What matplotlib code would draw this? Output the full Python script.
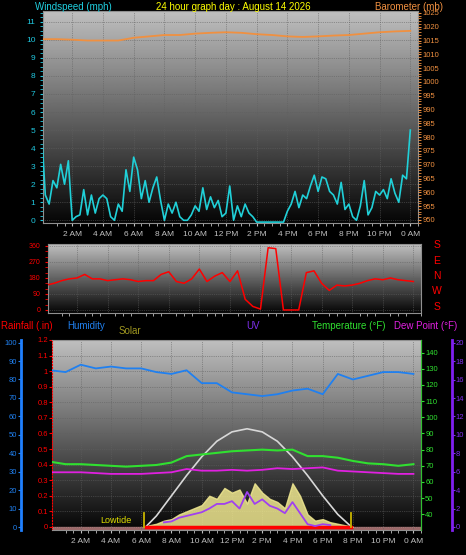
import numpy as np
import matplotlib
matplotlib.use("Agg")
import matplotlib.pyplot as plt

# ---- data ----
wind = [5.0, 1.4, 0.9, 2.2, 1.8, 3.1, 2.0, 3.3, 0.0, 0.2, 0.3, 1.7, 0.3, 1.4, 0.4, 1.2,
        1.4, 1.2, 0.2, 0.0, 0.9, 0.5, 2.8, 1.6, 3.5, 2.8, 1.2, 2.2, 1.0, 1.8, 2.4, 1.1,
        0.0, 0.9, 0.4, 1.0, 0.2, 0.0, 0.0, 0.3, 0.8, 0.5, 1.8, 0.6, 1.3, 0.7, 1.1, 0.2,
        0.4, 1.9, 0.0, 0.8, 0.2, 0.9, 0.4, 0.2, -0.1, -0.1, -0.1, -0.1, -0.1, -0.1, -0.1, -0.1,
        0.5, 0.9, 1.6, 0.7, 1.4, 1.2, 1.9, 2.5, 1.6, 2.4, 2.3, 1.6, 1.4, 0.9, 2.1, 0.6,
        0.9, 0.2, 0.0, 0.8, 2.2, 0.3, 0.7, 1.6, 1.4, 1.7, 1.2, 2.3, 1.5, 1.0, 2.5, 2.3, 5.0]
baro = [1015.5, 1015.5, 1015.3, 1015, 1015, 1015, 1016, 1016.5, 1017, 1017, 1017.5, 1017.8,
        1018, 1017.8, 1017.3, 1017, 1016.5, 1016.3, 1016.5, 1016.8, 1017, 1017.5, 1018, 1018.3, 1018.5]
wdir = [140, 150, 165, 175, 180, 200, 175, 175, 165, 170, 175, 170, 160, 165, 165, 200, 215,
        160, 150, 175, 230, 160, 190, 210, 160, 220, 60, 20, 5, 350, 345, 0, 0, 0, 210, 220,
        150, 110, 140, 135, 140, 150, 165, 175, 170, 180, 170, 165, 160]
humidity = [85, 84, 88, 86, 87, 86, 86, 84, 83, 85, 78, 78, 73, 72, 71, 72, 74, 75, 72, 83,
            80, 82, 84, 84, 83]
temp = [72.5, 71, 71, 70.5, 70, 69.5, 70, 70.5, 72, 76, 77, 78, 79, 79.5, 80, 79.5, 80, 76,
        76, 75, 73, 71.5, 71, 70, 71]
dew = [66, 66, 66, 65.5, 65, 65, 65, 65.5, 66, 68, 67, 67, 67.5, 67, 67.5, 68.5, 68, 68.5, 69,
       67, 66.5, 66, 65.5, 65, 65]
solar_h = [6.5, 7, 7.5, 8, 8.5, 9, 9.5, 10, 10.5, 11, 11.5, 12, 12.5, 13, 13.5, 14, 14.5, 15,
           15.5, 16, 16.5, 17, 17.5, 18, 18.5, 19, 19.5, 20]
solar = [10, 20, 40, 50, 80, 100, 120, 140, 200, 180, 250, 220, 240, 150, 280, 220, 180, 160,
         120, 280, 200, 80, 40, 50, 30, 20, 10, 0]
uv_h = [7.5, 8, 8.5, 9, 9.5, 10, 10.5, 11, 11.5, 12, 12.5, 13, 13.5, 14, 14.5, 15, 15.5, 16,
        16.5, 17, 17.5, 18, 18.5]
uv = [0.5, 0.6, 1, 1.2, 1.4, 1.6, 2, 2.5, 2.5, 2.8, 2, 3.8, 2.5, 3, 2.3, 2, 1.5, 2.7, 1.5,
      0.3, 0.1, 0.3, 0.2]
sun_h = [6.3, 7, 8, 9, 10, 11, 12, 13, 14, 15, 16, 17, 18, 19, 19.9]
sun = [0, 0.07, 0.2, 0.33, 0.45, 0.55, 0.61, 0.63, 0.61, 0.55, 0.45, 0.33, 0.2, 0.08, 0]
tick_hours = list(range(2, 25, 2))
tick_labels = ["2 AM", "4 AM", "6 AM", "8 AM", "10 AM", "12 PM", "2 PM", "4 PM", "6 PM",
               "8 PM", "10 PM", "0 AM"]

W, H = 466, 555
plt.rcParams["font.family"] = ["Liberation Sans", "DejaVu Sans"]
fig = plt.figure(figsize=(W / 100, H / 100), dpi=100, facecolor="black")
grad = np.linspace(0.75, 0.02, 256).reshape(-1, 1)
TS = 5.5   # tick label size
LS = 7     # header label size


def panel(rect):
    ax = fig.add_axes(rect)
    ax.set_facecolor("black")
    ax.imshow(grad, cmap="gray", vmin=0, vmax=1, aspect="auto", extent=[0, 1, 0, 1],
              transform=ax.transAxes, zorder=0)
    ax.set_xlim(0.1, 24.2)
    ax.set_xticks(tick_hours)
    ax.set_xticks(np.arange(1, 25, 0.5), minor=True)
    ax.grid(True, color="#606060", lw=0.5, ls=":")
    for s in ax.spines.values():
        s.set_color("#909090")
    ax.tick_params(axis="x", colors="#c0c0c0", labelsize=TS + 0.5, length=2, which="both")
    return ax


def frac(l, t, r, b):
    return [l / W, 1 - b / H, (r - l) / W, (b - t) / H]


# top panel
ax1 = panel(frac(43, 11, 418, 223))
ax1.set_xticklabels(tick_labels)
ax1.plot(np.arange(len(wind)) * 0.25, wind, color="#20d0d8", lw=1.2, zorder=3)
ax1.set_ylim(-0.15, 11.6)
ax1.set_yticks(range(0, 12))
ax1.set_yticks(np.arange(0, 11.6, 0.25), minor=True)
ax1.tick_params(axis="y", colors="#20c8e0", labelsize=TS + 0.5, which="both", length=2)
ax1b = ax1.twinx()
ax1b.plot(range(len(baro)), baro, color="#f09040", lw=1.3)
ax1b.set_ylim(948.9, 1025.7)
ax1b.set_yticks(range(950, 1026, 5))
ax1b.set_yticks(range(949, 1026, 1), minor=True)
ax1b.tick_params(axis="y", colors="#f09040", labelsize=TS, which="both", length=2, pad=1)
for s in ax1b.spines.values():
    s.set_visible(False)
fig.text(35 / W, 1 - 7 / H, "Windspeed (mph)", color="#20d0e0", fontsize=LS, va="center")
fig.text(0.5, 1 - 7 / H, "24 hour graph day : August 14 2026", color="yellow", fontsize=LS,
         va="center", ha="center")
fig.text(443 / W, 1 - 7 / H, "Barometer (mb)", color="#f09040", fontsize=LS, va="center",
         ha="right")

# wind direction panel
ax2 = panel(frac(48, 244, 421, 313))
ax2.set_xticklabels([])
ax2.tick_params(axis="x", length=0)
ax2.plot(np.arange(len(wdir)) * 0.5, wdir, color="red", lw=1.1, zorder=3)
ax2.set_ylim(-17, 371)
ax2.set_yticks([0, 90, 180, 270, 360])
ax2.set_yticks(range(0, 361, 30), minor=True)
ax2.tick_params(axis="y", colors="red", labelsize=TS - 0.5, which="both", length=2)
for i, c in enumerate("SENWS"):
    fig.text(437 / W, 1 - (245 + i * 15.5) / H, c, color="red", fontsize=LS + 0.5, va="center",
             ha="center")

# bottom panel
ax3 = panel(frac(52, 340, 421, 530))
ax3.set_xticklabels(tick_labels)
ax3.set_ylim(-0.02, 1.19)
ax3.set_yticks(np.arange(0, 1.21, 0.1))
ax3.set_yticklabels(["0", "0.1", "0.2", "0.3", "0.4", "0.5", "0.6", "0.7", "0.8", "0.9", "1",
                     "1.1", "1.2"])
ax3.tick_params(axis="y", colors="red", labelsize=TS, length=2, pad=1)
ax3.spines["left"].set_color("red")
ax3.spines["left"].set_linestyle(":")
ax3.axhspan(-0.02, 0.0, color="#f0a0a0", alpha=0.6, zorder=1)
ax3.fill_between(solar_h, 0, np.array(solar) / 1000, color="#f0e890", alpha=0.85, zorder=2)
ax3.plot(sun_h, sun, color="#d8d8d8", lw=1.2, zorder=3)
ax3.plot([6.3, 19.9], [0, 0], color="red", lw=2.5, zorder=4)
for h in [6.2, 19.9]:
    ax3.plot([h, h], [0, 0.09], color="#c8b400", lw=1.3, zorder=4)
ax3.text(4.3, 0.025, "Lowtide", color="#e0e000", fontsize=6.5, ha="center", zorder=5)

axh = ax3.twinx()
axh.spines["right"].set_visible(False)
axh.spines["left"].set_visible(True)
axh.spines["left"].set_position(("outward", 22))
axh.spines["left"].set_color("#2080ff")
axh.spines["left"].set_linewidth(2)
axh.yaxis.set_ticks_position("left")
axh.yaxis.set_label_position("left")
axh.plot(range(len(humidity)), humidity, color="#2080f0", lw=1.3)
axh.set_ylim(-1.6, 101.4)
axh.set_yticks(range(0, 101, 10))
axh.tick_params(axis="y", colors="#2080f0", labelsize=TS, length=2, pad=1)
for s in ["top", "bottom"]:
    axh.spines[s].set_visible(False)

axt = ax3.twinx()
axt.plot(range(len(temp)), temp, color="#30e030", lw=1.5)
axt.plot(range(len(dew)), dew, color="#e020e0", lw=1.3)
axt.set_ylim(30.3, 147.8)
axt.set_yticks(range(40, 141, 10))
axt.tick_params(axis="y", colors="#30e030", labelsize=TS, length=2, pad=1)
axt.spines["right"].set_color("#30c030")
for s in ["top", "bottom", "left"]:
    axt.spines[s].set_visible(False)

axu = ax3.twinx()
axu.spines["right"].set_position(("outward", 22))
axu.spines["right"].set_color("#8020f0")
axu.spines["right"].set_linewidth(2)
axu.plot(uv_h, uv, color="#a040f0", lw=1.3, zorder=4)
axu.set_ylim(-0.33, 20.3)
axu.set_yticks(range(0, 21, 2))
axu.tick_params(axis="y", colors="#8030f0", labelsize=TS, length=2, pad=1)
for s in ["top", "bottom", "left"]:
    axu.spines[s].set_visible(False)

ty = 1 - 326 / H
fig.text(1 / W, ty, "Rainfall (.in)", color="red", fontsize=LS, va="center")
fig.text(67 / W, ty, "Humidity", color="#2080f0", fontsize=LS, va="center")
fig.text(119 / W, 1 - 331 / H, "Solar", color="#a09820", fontsize=LS, va="center")
fig.text(246 / W, ty, "UV", color="#8030f0", fontsize=LS, va="center")
fig.text(312 / W, ty, "Temperature (°F)", color="#30e030", fontsize=LS, va="center")
fig.text(394 / W, ty, "Dew Point (°F)", color="#e020e0", fontsize=LS, va="center")

fig.savefig("out.png", dpi=100, facecolor="black")
